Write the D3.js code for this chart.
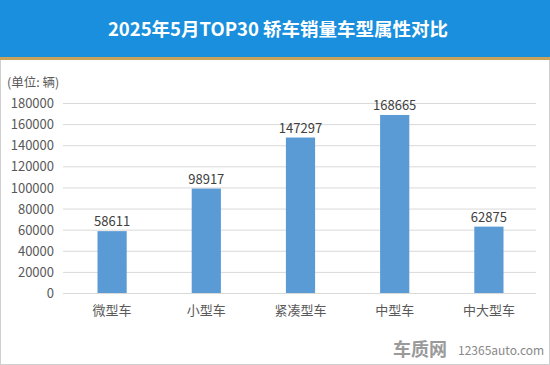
<!DOCTYPE html>
<html><head><meta charset="utf-8">
<script src="https://cdn.jsdelivr.net/npm/d3@7/dist/d3.min.js"></script>
<style>body{margin:0;background:#fff;}svg{display:block;}</style>
</head><body>
<script>
const categories = ["微型车", "小型车", "紧凑型车", "中型车", "中大型车"];
const sales = [58611, 98917, 147297, 168665, 62875];
const yTicks = [0, 20000, 40000, 60000, 80000, 100000, 120000, 140000, 160000, 180000];
const titleText = "2025年5月TOP30 轿车销量车型属性对比";
const unitText = "(单位: 辆)";

const W = 550, H = 365;
const svg = d3.select("body").append("svg").attr("width", W).attr("height", H);
const font = "'Microsoft YaHei','Noto Sans CJK SC','DejaVu Sans',sans-serif";

svg.append("rect").attr("x",0.5).attr("y",0.5).attr("width",W-1).attr("height",H-1)
  .attr("fill","#fff").attr("stroke","#d0d0d0");
svg.append("rect").attr("x",0).attr("y",0).attr("width",W).attr("height",57).attr("fill","#1a8fdd");
svg.append("rect").attr("x",0).attr("y",57).attr("width",W).attr("height",3).attr("fill","#c9a35a");
svg.append("text").attr("x",W/2 + 3).attr("y",36).attr("text-anchor","middle")
  .attr("fill","#fff").attr("font-family",font).attr("font-weight","bold").attr("font-size",18.5)
  .text(titleText);

const x = d3.scaleBand().domain(categories).range([65, 536]).paddingInner(0.69).paddingOuter(0.345);
const y = d3.scaleLinear().domain([0, 180000]).range([293, 103]);

const g = svg.append("g");
g.selectAll("line.grid").data(yTicks).join("line").attr("class","grid")
  .attr("x1",63).attr("x2",536).attr("y1",d=>y(d)+0.5).attr("y2",d=>y(d)+0.5)
  .attr("stroke","#d9d9d9").attr("stroke-width",1);

const yAxis = d3.axisLeft(y).tickValues(yTicks).tickSize(0).tickPadding(0).tickFormat(d3.format("d"));
const ya = svg.append("g").attr("transform","translate(54,0)").call(yAxis);
ya.select(".domain").remove();
ya.selectAll("text").attr("font-family",font).attr("font-size",13).attr("fill","#595959").attr("dy","0.35em");

g.selectAll("rect.bar").data(sales).join("rect").attr("class","bar")
  .attr("x",(d,i)=>x(categories[i])).attr("width",x.bandwidth())
  .attr("y",d=>y(d)).attr("height",d=>y(0)-y(d)).attr("fill","#5b9bd5");

g.selectAll("text.val").data(sales).join("text").attr("class","val")
  .attr("x",(d,i)=>x(categories[i])+x.bandwidth()/2).attr("y",d=>y(d)-5)
  .attr("text-anchor","middle").attr("font-family",font).attr("font-size",13).attr("fill","#404040")
  .text(d=>d);

const xAxis = d3.axisBottom(x).tickSize(0).tickPadding(13);
const xa = svg.append("g").attr("transform","translate(0,293)").call(xAxis);
xa.select(".domain").attr("stroke","#d9d9d9").attr("d","M63,0.5H536");
xa.selectAll("text").attr("font-family",font).attr("font-size",13).attr("fill","#595959");

svg.append("text").attr("x",7).attr("y",87).attr("font-family",font).attr("font-size",12.5)
  .attr("fill","#595959").text(unitText);

svg.append("text").attr("x",393).attr("y",356).attr("font-family",font).attr("font-size",18)
  .attr("font-weight","bold").attr("fill","#9a9a9a").text("车质网");
svg.append("text").attr("x",458).attr("y",355).attr("font-family",font).attr("font-size",12)
  .attr("fill","#888").text("12365auto.com");
</script>
</body></html>
